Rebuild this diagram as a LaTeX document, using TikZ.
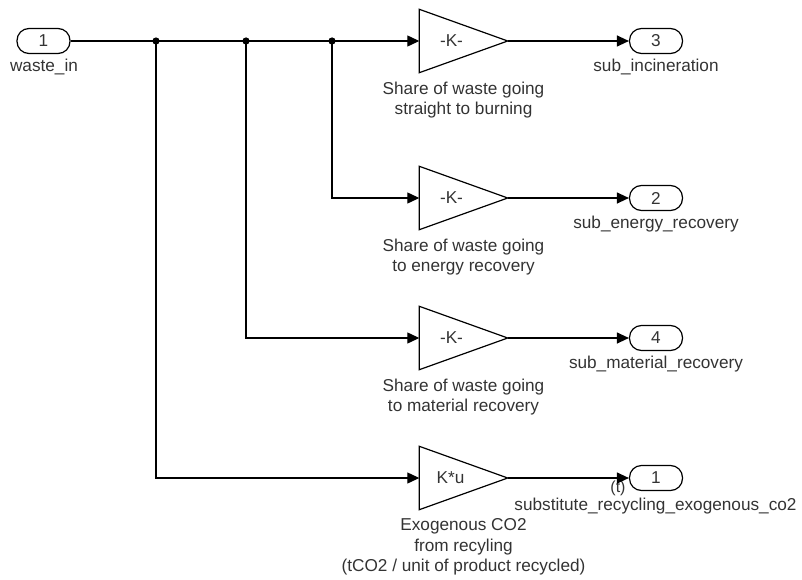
\documentclass[tikz,border=0pt]{standalone}
\usepackage{fontspec}
\setmainfont{Liberation Sans}
\usetikzlibrary{arrows.meta}
\begin{document}
\begin{tikzpicture}[x=1pt,y=-1pt,
  every node/.style={font=\fontsize{17.2}{20.5}\selectfont, text=black!80},
  port/.style={draw, line width=1.2pt, rounded corners=12pt, minimum width=53pt, minimum height=25pt, inner sep=0pt},
  gainbox/.style={minimum width=88pt, minimum height=63pt, inner sep=0pt},
  gaintri/.style={draw, line width=1.2pt, line join=miter},
  sig/.style={line width=1.2pt, -{Triangle[length=12pt,width=11pt]}},
  lbl/.style={align=center, inner sep=0pt}
]
\useasboundingbox (0,0) rectangle (802,580);

% ports
\node[port] (in) at (43.5,41) {1};
\node[lbl] (inl) at (44,67) {waste\_in};
\node[port] (o3) at (656,41) {3};
\node[lbl] (o3l) at (656,67) {sub\_incineration};
\node[port] (o2) at (656,198) {2};
\node[lbl] (o2l) at (656,224) {sub\_energy\_recovery};
\node[port] (o4) at (656,338) {4};
\node[lbl] (o4l) at (656,364) {sub\_material\_recovery};
\node[port] (o1) at (656,478) {1};
\node[lbl] (o1l) at (655.5,506) {substitute\_recycling\_exogenous\_co2};
\node[lbl, font=\fontsize{16}{19}\selectfont] (tl) at (618,488.5) {(t)};

% gains
\node[gainbox] (g1) at (463.5,41) {};
\node[gainbox] (g2) at (463.5,198) {};
\node[gainbox] (g3) at (463.5,338) {};
\node[gainbox] (g4) at (463.5,478) {};
\foreach \g in {g1,g2,g3,g4}{
  \draw[gaintri] (\g.north west) -- (\g.east) -- (\g.south west) -- cycle;
}
\node (k1) at ([xshift=-12pt]g1.center) {-K-};
\node (k2) at ([xshift=-12pt]g2.center) {-K-};
\node (k3) at ([xshift=-12pt]g3.center) {-K-};
\node (k4) at ([xshift=-13pt]g4.center) {K*u};

\node[lbl, anchor=north] (g1l) at ([yshift=-9pt]g1.south) {Share of waste going\\straight to burning};
\node[lbl, anchor=north] (g2l) at ([yshift=-9pt]g2.south) {Share of waste going\\to energy recovery};
\node[lbl, anchor=north] (g3l) at ([yshift=-9pt]g3.south) {Share of waste going\\to material recovery};
\node[lbl, anchor=north] (g4l) at ([yshift=-9pt]g4.south) {Exogenous CO2\\from recyling\\(tCO2 / unit of product recycled)};

% junctions
\coordinate (j1) at (156,41);
\coordinate (j2) at (246,41);
\coordinate (j3) at (332,41);
\foreach \j in {j1,j2,j3}{ \fill (\j) circle (3.6pt); }

% wires
\draw[sig] (in.east) -- (g1.west);
\draw[sig] (j3) |- (g2.west);
\draw[sig] (j2) |- (g3.west);
\draw[sig] (j1) |- (g4.west);
\draw[sig] (g1.east) -- (o3.west);
\draw[sig] (g2.east) -- (o2.west);
\draw[sig] (g3.east) -- (o4.west);
\draw[sig] (g4.east) -- (o1.west);
\end{tikzpicture}
\end{document}
